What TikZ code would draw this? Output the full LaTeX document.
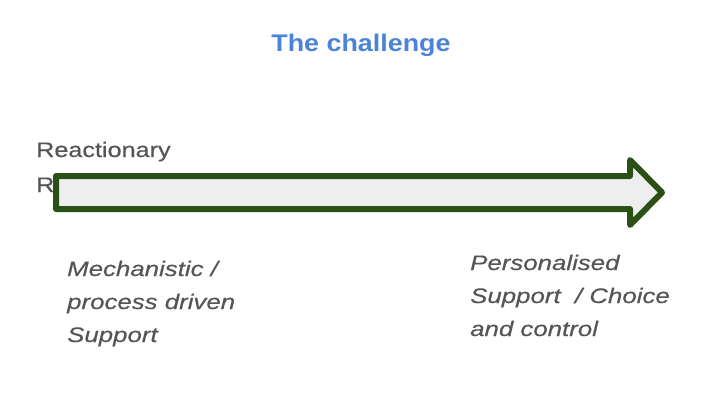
\documentclass[tikz,border=0pt]{standalone}
\usepackage{fontspec}
\setmainfont[FakeStretch=1.2, FakeBold=0.4]{Liberation Sans}
\newfontfamily\captionfont[FakeStretch=1.23, FakeBold=0.4]{Liberation Sans}
\newfontfamily\titlefont[FakeStretch=1.12]{Liberation Sans}
\usepackage{xcolor}
\usetikzlibrary{positioning}

\definecolor{titleblue}{HTML}{4A83D8}
\definecolor{textgray}{HTML}{555555}
\definecolor{arrowgreen}{HTML}{2B5016}
\definecolor{arrowfill}{HTML}{EEEEEE}

\begin{document}
\begin{tikzpicture}[x=1bp, y=-1bp,
  label text/.style={text=textgray, inner sep=0pt, anchor=base west, align=left,
    font=\fontsize{21bp}{33bp}\selectfont},
  caption text/.style={label text, font=\captionfont\itshape\fontsize{21bp}{33bp}\selectfont}]
\useasboundingbox (0,0) rectangle (720,405);

% Title
\node[text=titleblue, inner sep=0pt, anchor=base, font=\titlefont\bfseries\fontsize{24bp}{28bp}\selectfont]
  (title) at (361,51) {The challenge};

% Left label (partly behind the arrow), anchored on its last line
\node[label text, font=\fontsize{21bp}{35bp}\selectfont] (reaction) at (36,192) {Reactionary\\R};

% Big arrow
\draw[line width=6bp, line join=round, draw=arrowgreen, fill=arrowfill]
  (56,176) -- (630,176) -- (630,160) -- (662,192.5) -- (630,225) -- (630,209) -- (56,209) -- cycle;

% Captions under the arrow
\node[caption text] (mech) at (67,342)
  {Mechanistic /\\process driven\\Support};
\node[caption text] (person) at (470,336)
  {Personalised\\Support~ / Choice\\and control};
\end{tikzpicture}
\end{document}
